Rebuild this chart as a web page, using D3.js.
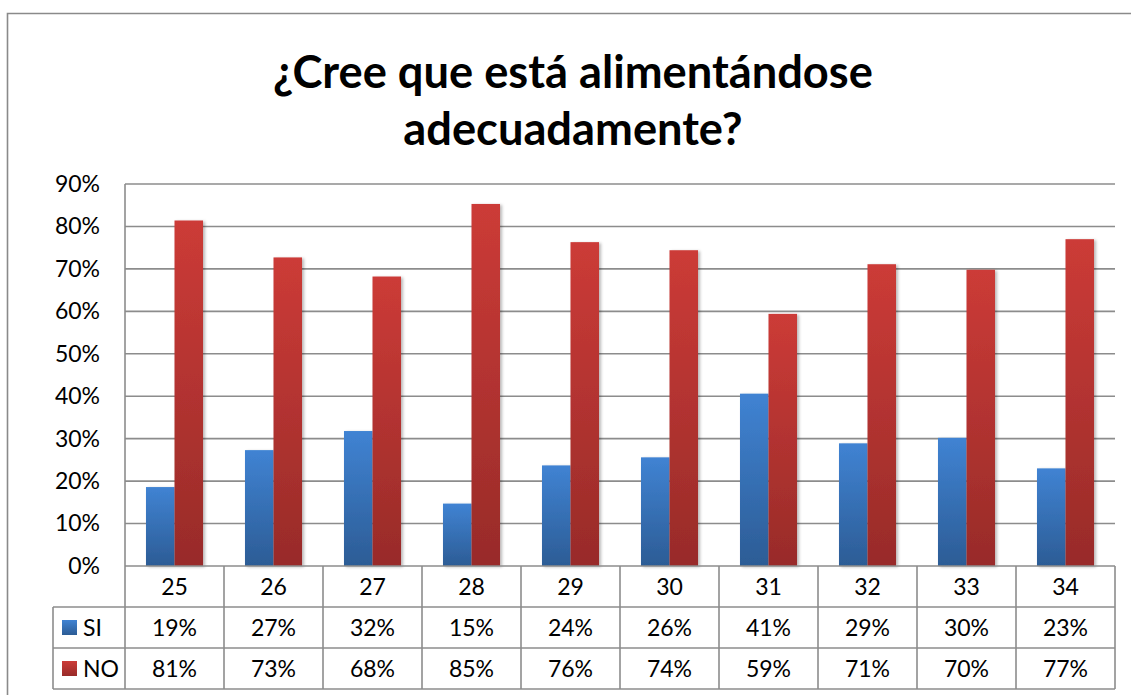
<!DOCTYPE html>
<html>
<head>
<meta charset="utf-8">
<script src="https://cdn.jsdelivr.net/npm/d3@7"></script>
<style>
  body { margin: 0; background: #fff; }
  svg text { font-family: Lato, "Open Sans", sans-serif; fill: #000; }
</style>
</head>
<body>
<svg id="chart" width="1131" height="695"></svg>
<script>
// chart data
const categories = ['25', '26', '27', '28', '29', '30', '31', '32', '33', '34'];
const seriesNames = ['SI', 'NO'];
const siValues = [18.6, 27.3, 31.8, 14.7, 23.7, 25.6, 40.6, 28.9, 30.2, 23.0];
const noValues = [81.4, 72.7, 68.2, 85.3, 76.3, 74.4, 59.4, 71.1, 69.8, 77.0];
const yTicks = [0, 10, 20, 30, 40, 50, 60, 70, 80, 90];
const titleLines = ['¿Cree que está alimentándose', 'adecuadamente?'];

const series = [
  { name: seriesNames[0], values: siValues, grad: 'grad-si' },
  { name: seriesNames[1], values: noValues, grad: 'grad-no' }
];

const width = 1131;
const height = 695;
const margin = { top: 184, left: 125, right: 16 };
const plotBottom = 566;
const rowH = 41;
const legendLeft = 53;
const gridColor = '#8c8c8c';
const labelSize = 23;

const svg = d3.select('#chart');
const defs = svg.append('defs');

// gradients per bar (objectBoundingBox)
const gradColors = { 'grad-si': ['#4083d3', '#2c5c95'], 'grad-no': ['#cc3b37', '#982b29'] };
Object.entries(gradColors).forEach(([id, c]) => {
  const g = defs.append('linearGradient').attr('id', id)
    .attr('x1', 0).attr('y1', 0).attr('x2', 0).attr('y2', 1);
  g.append('stop').attr('offset', '0%').attr('stop-color', c[0]);
  g.append('stop').attr('offset', '100%').attr('stop-color', c[1]);
});

defs.append('filter').attr('id', 'shadow')
  .attr('x', '-20%').attr('y', '-5%').attr('width', '150%').attr('height', '115%')
  .append('feDropShadow')
    .attr('dx', 2).attr('dy', 1).attr('stdDeviation', 1.6)
    .attr('flood-color', '#000').attr('flood-opacity', 0.28);

// outer border (right / bottom edges cut off like the source)
svg.append('path')
  .attr('d', `M7.5,${height + 5}V13.5H${width + 5}`)
  .attr('fill', 'none')
  .attr('stroke', '#8a8a8a')
  .attr('stroke-width', 1.6);

// title
const title = svg.append('g').attr('text-anchor', 'middle');
title.selectAll('text').data(titleLines)
  .enter().append('text')
    .attr('x', 573)
    .attr('y', (d, i) => 88 + i * 57)
    .attr('font-weight', 'bold')
    .attr('font-size', 40)
    .text(d => d);
// fit the first line to the reference width
const firstLen = title.select('text').node().getComputedTextLength();
title.selectAll('text').attr('font-size', 40 * 600 / firstLen);

// scales
const x = d3.scaleBand()
  .domain(categories)
  .range([margin.left, width - margin.right])
  .paddingInner(0.424)
  .paddingOuter(0.212);

const xInner = d3.scaleBand()
  .domain(seriesNames)
  .range([0, x.bandwidth()]);

const y = d3.scaleLinear()
  .domain([0, 90])
  .range([plotBottom, margin.top]);

// gridlines
svg.append('g')
  .selectAll('line').data(yTicks.slice(1))
  .enter().append('line')
    .attr('x1', margin.left).attr('x2', width - margin.right)
    .attr('y1', d => y(d)).attr('y2', d => y(d))
    .attr('stroke', gridColor).attr('stroke-width', 1.6);

// y axis labels
const yAxis = d3.axisLeft(y)
  .tickValues(yTicks)
  .tickFormat(d => d + '%')
  .tickSize(0)
  .tickPadding(25);

svg.append('g')
  .attr('transform', `translate(${margin.left},0)`)
  .call(yAxis)
  .call(g => g.select('.domain').remove())
  .call(g => g.selectAll('text')
    .attr('font-size', labelSize)
    .style('font-family', 'Lato, "Open Sans", sans-serif'));

// bars
const groups = svg.append('g')
  .selectAll('g').data(series)
  .enter().append('g');

groups.selectAll('rect')
  .data(s => s.values.map((v, i) => ({ name: s.name, grad: s.grad, cat: categories[i], v })))
  .enter().append('rect')
    .attr('x', d => x(d.cat) + xInner(d.name))
    .attr('y', d => y(d.v))
    .attr('width', xInner.bandwidth())
    .attr('height', d => y(0) - y(d.v))
    .attr('fill', d => `url(#${d.grad})`)
    .attr('filter', 'url(#shadow)');

// data table
const table = svg.append('g');
const step = x.step();
const colEdges = categories.map(c => x(c) - (step - x.bandwidth()) / 2);
colEdges.push(width - margin.right);

const tableLine = (x1, y1, x2, y2) => table.append('line')
  .attr('x1', x1).attr('y1', y1).attr('x2', x2).attr('y2', y2)
  .attr('stroke', gridColor).attr('stroke-width', 1.6);

// axis line top of table and the vertical axis
tableLine(margin.left, plotBottom, width - margin.right, plotBottom);
tableLine(margin.left, margin.top, margin.left, plotBottom + rowH * 3);
tableLine(legendLeft, plotBottom + rowH, width - margin.right, plotBottom + rowH);
tableLine(legendLeft, plotBottom + rowH * 2, width - margin.right, plotBottom + rowH * 2);
tableLine(legendLeft, plotBottom + rowH * 3, width - margin.right, plotBottom + rowH * 3);
tableLine(legendLeft, plotBottom + rowH, legendLeft, plotBottom + rowH * 3);
colEdges.slice(1).forEach(cx => tableLine(cx, plotBottom, cx, plotBottom + rowH * 3));

// category labels
table.selectAll('text.cat').data(categories)
  .enter().append('text')
    .attr('class', 'cat')
    .attr('x', d => x(d) + x.bandwidth() / 2)
    .attr('y', plotBottom + rowH / 2)
    .attr('dy', '0.36em')
    .attr('text-anchor', 'middle')
    .attr('font-size', labelSize)
    .text(d => d);

// value rows
series.forEach((s, r) => {
  const rowY = plotBottom + rowH * (r + 1) + rowH / 2;
  table.append('rect')
    .attr('x', 62).attr('y', rowY - 7.5)
    .attr('width', 15).attr('height', 15)
    .attr('fill', `url(#${s.grad})`);
  table.append('text')
    .attr('x', 83).attr('y', rowY)
    .attr('dy', '0.36em')
    .attr('font-size', labelSize)
    .text(s.name);
  table.selectAll(null).data(s.values)
    .enter().append('text')
      .attr('x', (d, i) => x(categories[i]) + x.bandwidth() / 2)
      .attr('y', rowY)
      .attr('dy', '0.36em')
      .attr('text-anchor', 'middle')
      .attr('font-size', labelSize)
      .text(d => Math.round(d) + '%');
});
</script>
</body>
</html>
